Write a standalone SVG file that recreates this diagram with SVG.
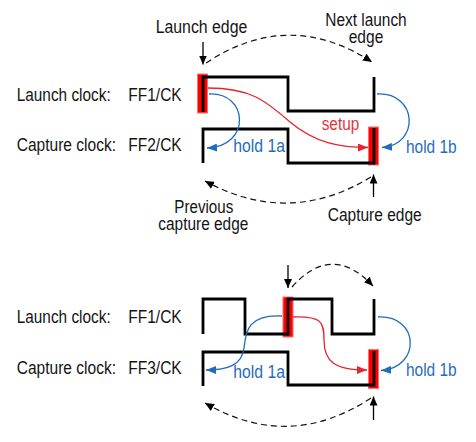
<svg xmlns="http://www.w3.org/2000/svg" width="476" height="442" viewBox="0 0 476 442">
<style>
text{font-family:"Liberation Sans Narrow","Liberation Sans",Arial,sans-serif;font-size:17.5px;fill:#141414}
.blue{fill:#1f6cbd}
.redt{fill:#e8333a}
.wave{fill:none;stroke:#000;stroke-width:2.8;stroke-linejoin:miter;stroke-linecap:butt}
.hl{fill:#ff0000;stroke:#ff7070;stroke-width:1}
.dash{fill:none;stroke:#111;stroke-width:1.2;stroke-dasharray:6 4}
.arr{fill:none;stroke:#000;stroke-width:1.3}
.bl{fill:none;stroke:#1f6cbd;stroke-width:1.3}
.rd{fill:none;stroke:#e8232c;stroke-width:1.3}
</style>
<defs>
<marker id="ak" markerUnits="userSpaceOnUse" markerWidth="10" markerHeight="8" refX="9" refY="4" orient="auto"><path d="M0,0 L9,4 L0,8 z" fill="#000"/></marker>
<marker id="ab" markerUnits="userSpaceOnUse" markerWidth="11" markerHeight="8" refX="10" refY="4" orient="auto"><path d="M0,0 L10,4 L0,8 z" fill="#1f6cbd"/></marker>
<marker id="ar" markerUnits="userSpaceOnUse" markerWidth="11" markerHeight="8" refX="10" refY="4" orient="auto"><path d="M0,0 L10,4 L0,8 z" fill="#e8232c"/></marker>
</defs>

<g id="labels-top">
<text x="16.7" y="100.5" textLength="94" lengthAdjust="spacingAndGlyphs">Launch clock:</text>
<text x="128.3" y="100.5" textLength="53.4" lengthAdjust="spacingAndGlyphs">FF1/CK</text>
<text x="16.7" y="151" textLength="99.3" lengthAdjust="spacingAndGlyphs">Capture clock:</text>
<text x="128.3" y="151" textLength="53.4" lengthAdjust="spacingAndGlyphs">FF2/CK</text>
<text x="155.7" y="32.7" textLength="91.6" lengthAdjust="spacingAndGlyphs">Launch edge</text>
<text><tspan x="325.3" y="26.3" textLength="81.4" lengthAdjust="spacingAndGlyphs">Next launch</tspan><tspan x="348.7" y="42.5" textLength="34.6" lengthAdjust="spacingAndGlyphs">edge</tspan></text>
<text><tspan x="174.3" y="213.3" textLength="59" lengthAdjust="spacingAndGlyphs">Previous</tspan><tspan x="158.3" y="230" textLength="90" lengthAdjust="spacingAndGlyphs">capture edge</tspan></text>
<text x="327.7" y="221.3" textLength="94" lengthAdjust="spacingAndGlyphs">Capture edge</text>
<text class="blue" x="233.3" y="151.7" textLength="51.7" lengthAdjust="spacingAndGlyphs">hold 1a</text>
<text class="redt" x="321.7" y="130" textLength="37.6" lengthAdjust="spacingAndGlyphs">setup</text>
<text class="blue" x="406" y="152.5" textLength="50.7" lengthAdjust="spacingAndGlyphs">hold 1b</text>
</g>

<g id="labels-bottom">
<text x="16.7" y="323.3" textLength="94" lengthAdjust="spacingAndGlyphs">Launch clock:</text>
<text x="128.3" y="323.3" textLength="53.4" lengthAdjust="spacingAndGlyphs">FF1/CK</text>
<text x="16.7" y="374" textLength="99.3" lengthAdjust="spacingAndGlyphs">Capture clock:</text>
<text x="128.3" y="374" textLength="53.4" lengthAdjust="spacingAndGlyphs">FF3/CK</text>
<text class="blue" x="233.3" y="378.3" textLength="51.7" lengthAdjust="spacingAndGlyphs">hold 1a</text>
<text class="blue" x="406" y="376" textLength="50.7" lengthAdjust="spacingAndGlyphs">hold 1b</text>
</g>

<g id="highlights">
<rect class="hl" x="197.5" y="74" width="10" height="39"/>
<rect class="hl" x="368.5" y="127" width="10" height="38"/>
<rect class="hl" x="283" y="297" width="10" height="40"/>
<rect class="hl" x="368.5" y="349.5" width="10" height="39"/>
</g>

<g id="waveforms">
<path id="launch-top" class="wave" d="M203,112 V77 H288 V111 H374 V77"/>
<path id="capture-top" class="wave" d="M203,163 V129 H288 V163 H374 V128"/>
<path id="launch-bottom" class="wave" d="M203,334 V299 H245 V334 H288 V299 H332 V334 H374 V299"/>
<path id="capture-bottom" class="wave" d="M203,386 V352 H288 V385 H374 V351"/>
</g>

<g id="connectors">
<line class="arr" x1="203" y1="42" x2="203" y2="64.5" marker-end="url(#ak)"/>
<line class="arr" x1="373.5" y1="197" x2="373.5" y2="174.5" marker-end="url(#ak)"/>
<line class="arr" x1="288" y1="265" x2="288" y2="288" marker-end="url(#ak)"/>
<line class="arr" x1="373.5" y1="420" x2="373.5" y2="396.5" marker-end="url(#ak)"/>
<path class="dash" d="M206,63 Q289,8 372,62" marker-end="url(#ak)"/>
<path class="dash" d="M371,177 Q289,227 205,181" marker-end="url(#ak)"/>
<path class="dash" d="M292,287 Q332,242 373,286" marker-end="url(#ak)"/>
<path class="dash" d="M371,398 Q289,452 205,403" marker-end="url(#ak)"/>
<path class="rd" d="M208,88 C250,88 265,100 290,122 C315,143 340,147.5 368,147.5" marker-end="url(#ar)"/>
<path class="bl" d="M209,94 C248,92 252,146 207,148" marker-end="url(#ab)"/>
<path class="bl" d="M377,94 C418,92 420,145 382,147.5" marker-end="url(#ab)"/>
<path class="rd" d="M293,317 C322,316 324,322 324,340 C324,362 335,370 367,370" marker-end="url(#ar)"/>
<path class="bl" d="M282,316 C245,314 246,335 244,348 C242,365 228,370 206,370" marker-end="url(#ab)"/>
<path class="bl" d="M378,317 C420,315 421,368 381,370.5" marker-end="url(#ab)"/>
</g>
</svg>
